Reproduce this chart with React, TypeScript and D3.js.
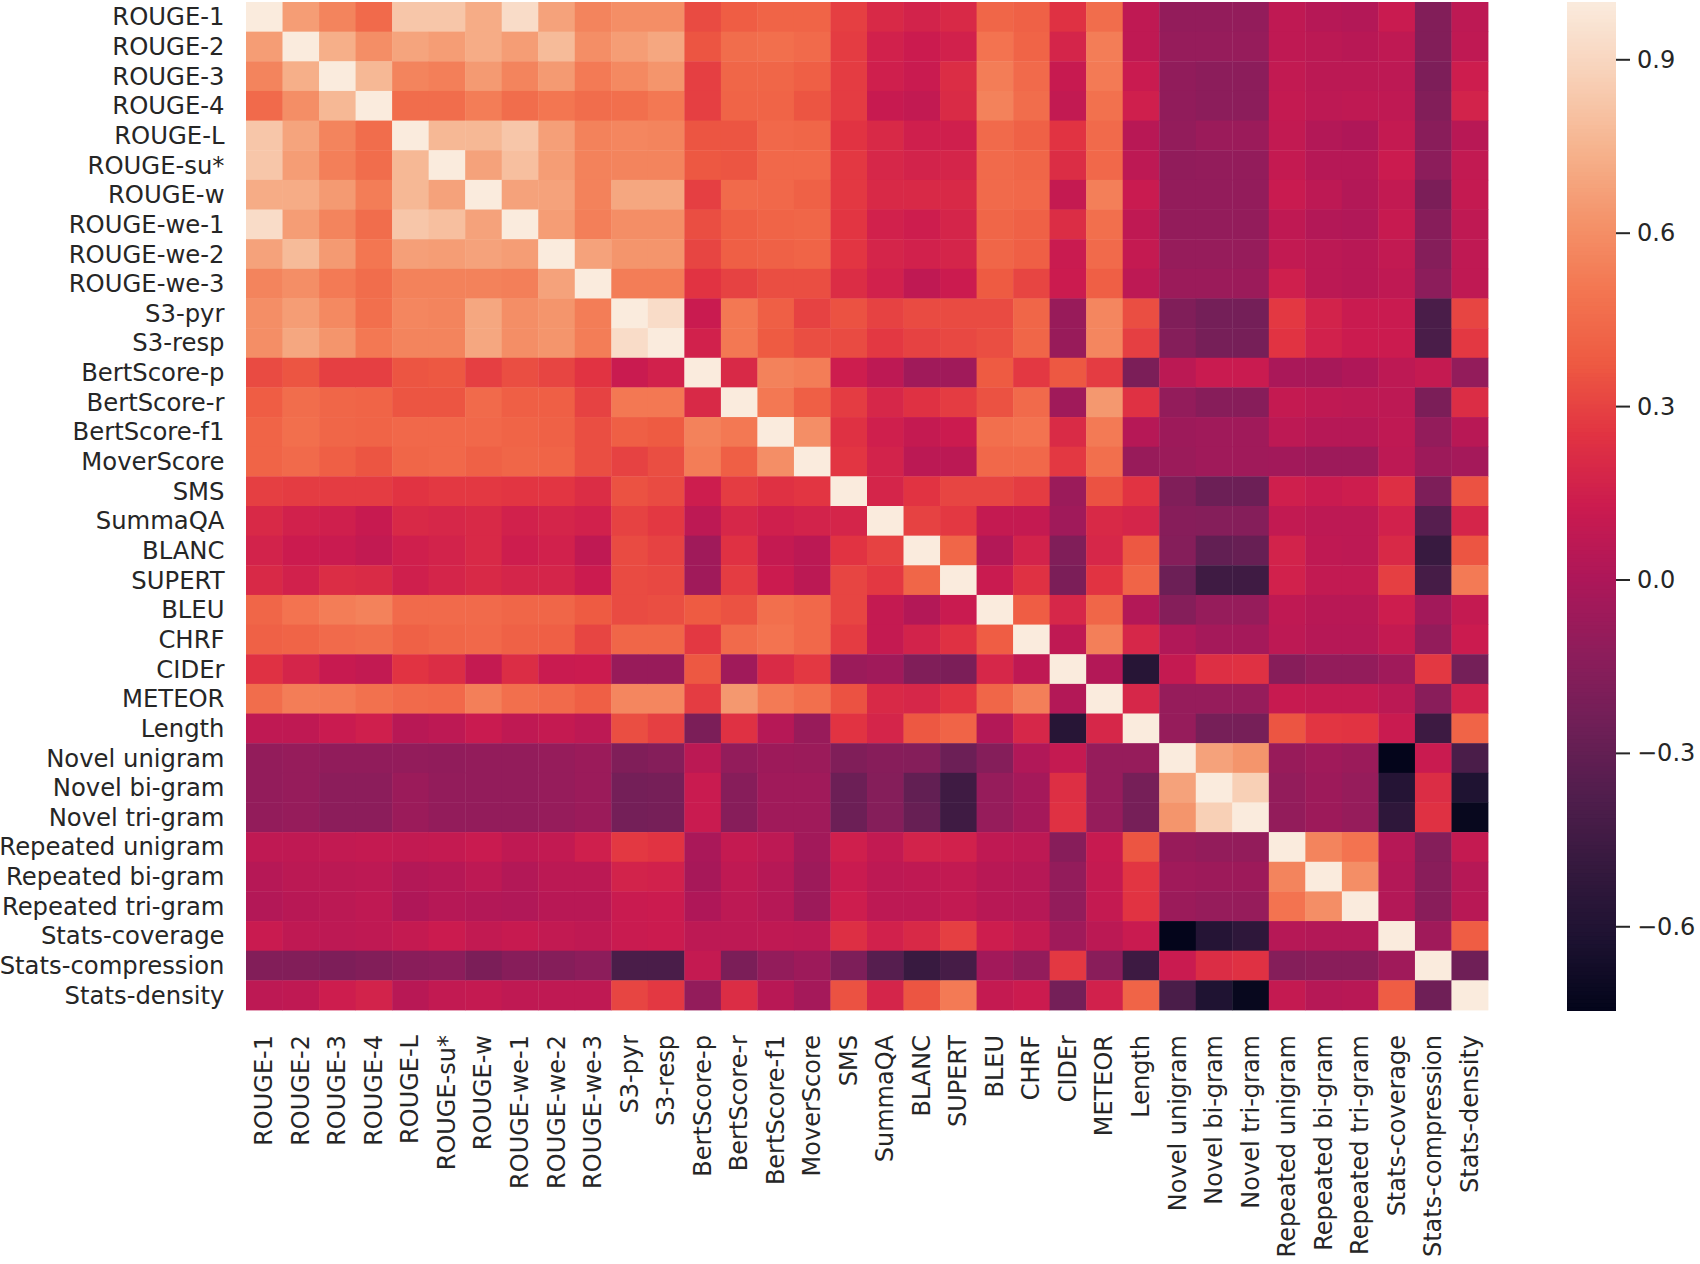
import React from "react";
import * as d3 from "d3";

const metricLabels = [
  "ROUGE-1", "ROUGE-2", "ROUGE-3", "ROUGE-4", "ROUGE-L", "ROUGE-su*", "ROUGE-w", "ROUGE-we-1", "ROUGE-we-2", "ROUGE-we-3",
  "S3-pyr", "S3-resp", "BertScore-p", "BertScore-r", "BertScore-f1", "MoverScore", "SMS", "SummaQA", "BLANC", "SUPERT",
  "BLEU", "CHRF", "CIDEr", "METEOR", "Length", "Novel unigram", "Novel bi-gram", "Novel tri-gram",
  "Repeated unigram", "Repeated bi-gram", "Repeated tri-gram", "Stats-coverage", "Stats-compression", "Stats-density",
];

// Upper triangle of the symmetric correlation matrix; each row starts at its diagonal.
const rougeRows = [
  [1, .66, .56, .45, .83, .83, .72, .93, .68, .56, .60, .60, .33, .39, .42, .42, .29, .2, .17, .2, .43, .41, .24, .46, .08, -.1, -.1, -.1, .08, .04, .03, .12, -.17, .07],
  [1, .73, .6, .69, .66, .72, .66, .78, .6, .66, .70, .36, .46, .47, .45, .28, .16, .13, .16, .49, .42, .18, .53, .08, -.09, -.09, -.09, .08, .06, .05, .08, -.17, .08],
  [1, .77, .56, .54, .65, .56, .65, .52, .58, .63, .29, .43, .43, .4, .28, .15, .12, .22, .53, .45, .11, .52, .12, -.11, -.13, -.13, .09, .06, .06, .07, -.19, .14],
  [1, .46, .46, .53, .46, .5, .46, .47, .51, .29, .42, .42, .36, .28, .11, .09, .21, .55, .46, .09, .48, .15, -.11, -.13, -.13, .1, .07, .08, .08, -.17, .17],
  [1, .77, .77, .83, .67, .55, .57, .56, .36, .36, .44, .43, .25, .2, .15, .15, .45, .41, .25, .45, .05, -.1, -.07, -.07, .09, .03, .01, .1, -.14, .05],
  [1, .68, .8, .66, .55, .56, .56, .37, .36, .44, .44, .27, .19, .17, .18, .45, .43, .22, .44, .07, -.11, -.1, -.1, .1, .04, .04, .13, -.13, .09],
  [1, .68, .68, .55, .7, .7, .29, .45, .44, .41, .27, .2, .2, .2, .45, .44, .1, .54, .12, -.1, -.1, -.1, .12, .07, .03, .09, -.2, .1],
  [1, .66, .54, .6, .6, .34, .4, .42, .43, .26, .16, .14, .18, .43, .41, .22, .47, .08, -.1, -.1, -.1, .08, .03, .02, .11, -.15, .08],
  [1, .68, .63, .63, .31, .4, .41, .42, .26, .18, .16, .18, .43, .4, .12, .45, .1, -.09, -.09, -.09, .09, .06, .05, .09, -.16, .08],
  [1, .53, .53, .25, .3, .34, .34, .22, .16, .08, .13, .38, .31, .13, .4, .07, -.07, -.07, -.07, .15, .06, .05, .08, -.13, .08],
];
const pyramidRows = [
  [1, .93, .12, .51, .4, .3, .35, .3, .33, .33, .33, .43, -.08, .57, .34, -.18, -.23, -.23, .27, .17, .12, .12, -.4, .31],
  [1, .16, .51, .38, .34, .33, .27, .3, .32, .34, .43, -.08, .57, .29, -.16, -.22, -.22, .25, .16, .13, .13, -.4, .27],
];
const bertRows = [
  [1, .2, .55, .53, .14, .07, -.05, -.05, .38, .27, .37, .28, -.2, .06, .12, .12, -.01, -.02, .01, .07, .1, -.1],
  [1, .51, .4, .28, .19, .24, .28, .35, .45, -.05, .64, .24, -.1, -.15, -.15, .1, .08, .07, .07, -.2, .22],
  [1, .6, .24, .15, .1, .13, .47, .49, .21, .52, .04, -.06, -.05, -.05, .07, .04, .04, .08, -.1, .05],
  [1, .26, .17, .06, .06, .44, .44, .27, .47, -.08, -.07, -.05, -.05, -.04, -.06, -.06, .07, -.06, -.03],
];
const unsupervisedRows = [
  [1, .18, .25, .31, .31, .28, -.07, .35, .25, -.18, -.26, -.26, .15, .12, .14, .23, -.19, .35],
  [1, .3, .27, .1, .1, -.05, .2, .18, -.15, -.16, -.16, .09, .07, .07, .16, -.35, .18],
  [1, .43, .03, .17, -.18, .19, .37, -.16, -.3, -.28, .17, .08, .07, .2, -.48, .36],
  [1, .12, .24, -.2, .25, .42, -.26, -.45, -.45, .16, .09, .09, .29, -.42, .52],
];
const classicRows = [
  [1, .39, .19, .43, .03, -.16, -.09, -.09, .08, .05, .05, .14, -.04, .1],
  [1, .08, .54, .19, .02, -.03, -.03, .07, .04, .04, .1, -.1, .13],
  [1, .03, -.57, .1, .23, .24, -.15, -.1, -.1, -.05, .27, -.23],
  [1, .19, -.09, -.09, -.09, .11, .1, .1, .06, -.14, .16],
  [1, -.09, -.22, -.22, .36, .26, .25, .12, -.46, .42],
];
const novelRows = [
  [1, .68, .63, -.08, -.05, -.07, -.74, .12, -.4],
  [1, .87, -.1, -.06, -.09, -.58, .22, -.61],
  [1, -.1, -.06, -.09, -.53, .24, -.72],
];
const repeatedRows = [
  [1, .56, .49, .04, -.16, .1],
  [1, .6, .03, -.14, .04],
  [1, .03, -.14, .05],
];
const statsRows = [
  [1, -.05, .39],
  [1, -.25],
  [1],
];

const upperRows = [...rougeRows, ...pyramidRows, ...bertRows, ...unsupervisedRows, ...classicRows, ...novelRows, ...repeatedRows, ...statsRows];
const colorbarTicks = [0.9, 0.6, 0.3, 0, -0.3, -0.6];
const valueMin = -0.744;
const valueMax = 1;

const rocketStops = [
  "#03051a", "#1d1231", "#35193e", "#511e4d", "#701f57", "#8e1d5b", "#ad1759", "#cb1b4f",
  "#e13342", "#ee5a42", "#f37651", "#f4946b", "#f6b48f", "#f8d1b8", "#faebdd",
];

const rocket = d3.piecewise(d3.interpolateRgb, rocketStops);
const color = d3.scaleSequential(rocket).domain([valueMin, valueMax]);

const plot = { left: 246, right: 1488, top: 2, bottom: 1010 };
const bar = { left: 1567, right: 1616 };
const FONT = "'DejaVu Sans', sans-serif";
const yFontSize = 24.3;
const xFontSize = 24;

export default function App() {
  const x = d3.scaleBand<number>().domain(d3.range(metricLabels.length)).range([plot.left, plot.right]);
  const y = d3.scaleBand<number>().domain(d3.range(metricLabels.length)).range([plot.top, plot.bottom]);
  const barY = d3.scaleLinear().domain([valueMin, valueMax]).range([plot.bottom, plot.top]);
  const barSteps = d3.range(0, 256).map((i) => valueMin + ((valueMax - valueMin) * i) / 256);
  const stepSize = (valueMax - valueMin) / 256;

  const cells = upperRows.flatMap((row, i) =>
    row.flatMap((v, k) => {
      const j = i + k;
      return i === j ? [{ r: i, c: j, v }] : [{ r: i, c: j, v }, { r: j, c: i, v }];
    })
  );

  return (
    <svg
      width={1700}
      height={1264}
      viewBox="0 0 1700 1264"
      style={{ position: "absolute", left: 0, top: 0, display: "block", background: "#fff" }}
      fontFamily={FONT}
    >
      <g>
        {cells.map((d) => (
          <rect
            key={`${d.r}-${d.c}`}
            x={x(d.c)}
            y={y(d.r)}
            width={x.bandwidth() + 0.4}
            height={y.bandwidth() + 0.4}
            fill={color(d.v)}
          />
        ))}
      </g>
      <g fontSize={yFontSize} fill="#262626">
        {metricLabels.map((name, i) => (
          <text key={name} x={224.5} y={y(i)! + y.bandwidth() / 2} textAnchor="end" dominantBaseline="central">
            {name}
          </text>
        ))}
      </g>
      <g fontSize={xFontSize} fill="#262626">
        {metricLabels.map((name, i) => {
          const cx = x(i)! + x.bandwidth() / 2;
          return (
            <text
              key={name}
              transform={`translate(${cx},1035) rotate(-90)`}
              textAnchor="end"
              dominantBaseline="central"
            >
              {name}
            </text>
          );
        })}
      </g>
      <g>
        {barSteps.map((v) => (
          <rect
            key={v}
            x={bar.left}
            width={bar.right - bar.left}
            y={barY(v + stepSize)}
            height={barY(v) - barY(v + stepSize) + 1}
            fill={color(v + stepSize / 2)}
          />
        ))}
      </g>
      <g fontSize={xFontSize} fill="#262626">
        {colorbarTicks.map((t) => (
          <g key={t} transform={`translate(${bar.right},${barY(t)})`}>
            <line x1={0} x2={14} stroke="#262626" strokeWidth={2} />
            <text x={21} dominantBaseline="central">
              {t < 0 ? `\u2212${d3.format(".1f")(-t)}` : d3.format(".1f")(t)}
            </text>
          </g>
        ))}
      </g>
    </svg>
  );
}
